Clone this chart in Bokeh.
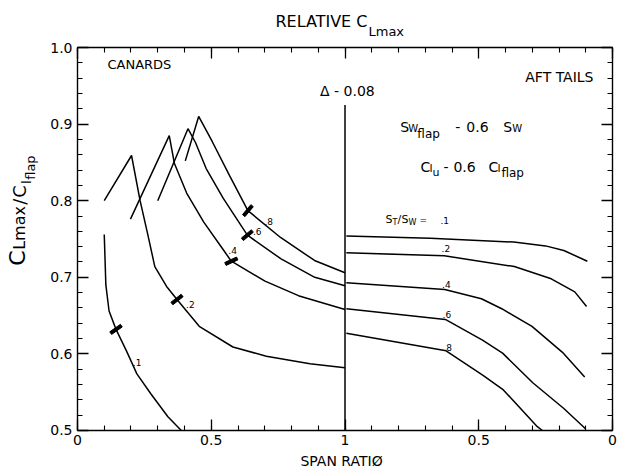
from bokeh.plotting import figure
from bokeh.models import (FixedTicker, LinearAxis, Label, ColumnDataSource,
                          CustomJSTickFormatter, Range1d)
from bokeh.core.properties import value
from bokeh.embed import file_html
from bokeh.resources import INLINE

FONT = "DejaVu Sans"

# ---------------- data ----------------
# Canards: left half, x = span ratio (0 -> 1)
canard_01_x = [0.100, 0.106, 0.118, 0.144, 0.183, 0.222, 0.274, 0.338, 0.388]
canard_01_y = [0.756, 0.690, 0.656, 0.632, 0.604, 0.574, 0.548, 0.518, 0.500]

canard_02_x = [0.100, 0.202, 0.234, 0.262, 0.289, 0.333, 0.372, 0.455, 0.581, 0.706, 0.869, 1.000]
canard_02_y = [0.800, 0.859, 0.800, 0.757, 0.714, 0.688, 0.671, 0.636, 0.609, 0.597, 0.587, 0.582]

canard_04_x = [0.198, 0.343, 0.362, 0.408, 0.472, 0.543, 0.575, 0.701, 0.826, 1.000]
canard_04_y = [0.776, 0.885, 0.849, 0.810, 0.772, 0.737, 0.721, 0.695, 0.676, 0.658]

canard_06_x = [0.300, 0.413, 0.441, 0.481, 0.545, 0.635, 0.761, 0.887, 1.000]
canard_06_y = [0.800, 0.894, 0.876, 0.842, 0.803, 0.755, 0.724, 0.700, 0.689]

canard_08_x = [0.403, 0.453, 0.504, 0.568, 0.637, 0.759, 0.886, 1.000]
canard_08_y = [0.852, 0.910, 0.877, 0.833, 0.787, 0.752, 0.722, 0.706]

# Aft tails: right half, x = span ratio (1 -> 0 going right)
aft_01_x = [0.995, 0.681, 0.369, 0.250, 0.182, 0.094]
aft_01_y = [0.754, 0.751, 0.746, 0.741, 0.735, 0.721]

aft_02_x = [0.995, 0.629, 0.367, 0.229, 0.141, 0.097]
aft_02_y = [0.732, 0.728, 0.714, 0.698, 0.681, 0.662]

aft_04_x = [0.995, 0.627, 0.490, 0.414, 0.301, 0.187, 0.104]
aft_04_y = [0.693, 0.684, 0.672, 0.659, 0.636, 0.602, 0.570]

aft_06_x = [0.995, 0.625, 0.486, 0.411, 0.297, 0.183, 0.100]
aft_06_y = [0.659, 0.645, 0.618, 0.601, 0.562, 0.529, 0.502]

aft_08_x = [0.995, 0.622, 0.484, 0.408, 0.281, 0.262]
aft_08_y = [0.627, 0.604, 0.572, 0.553, 0.505, 0.500]

# slash marks on the canard curves
slash_x = [0.144, 0.372, 0.575, 0.635, 0.637]
slash_y = [0.632, 0.671, 0.721, 0.755, 0.787]
slash_angle = [35, 38, 25, 40, 50]

# curve labels
canard_lbl_text = [".1", ".2", ".4", ".6", ".8"]
canard_lbl_x = [0.223, 0.422, 0.580, 0.672, 0.715]
canard_lbl_y = [0.589, 0.664, 0.735, 0.760, 0.773]

aft_lbl_text = [".2", ".4", ".6", ".8"]
aft_lbl_x = [0.623, 0.621, 0.619, 0.616]
aft_lbl_y = [0.738, 0.691, 0.651, 0.609]

# divider between canards and aft tails
divider_x = [1.0, 1.0]
divider_y = [0.5, 0.925]

# axis ticks and labels
x_major_ticks = [0.0, 0.5, 1.0, 1.5, 2.0]
x_tick_labels = ["0", "0.5", "1", "0.5", "0"]
x_minor_ticks = [i / 10 for i in range(21)]
y_major_ticks = [0.5, 0.6, 0.7, 0.8, 0.9, 1.0]
y_tick_labels = ["0.5", "0.6", "0.7", "0.8", "0.9", "1.0"]
y_minor_ticks = [0.5 + i * 0.02 for i in range(26)]

X_LO, X_HI = 0.0, 2.0
Y_LO, Y_HI = 0.5, 1.0


def to_plot_x(span_ratios):
    # aft-tail span ratio runs from 1 at the divider to 0 at the right edge
    return [2.0 - r for r in span_ratios]


# ---------------- figure ----------------
# The frame spans the whole canvas; the chart box [0,2]x[0.5,1] sits inside it,
# with the four axes pinned to the box edges (fixed_location), so that the
# titles drawn as labels outside the box are not clipped.
p = figure(width=617, height=468,
           x_range=Range1d(-0.28785, 2.01869), y_range=Range1d(0.45039, 1.06136),
           output_backend="svg", toolbar_location=None,
           min_border_left=0, min_border_right=0, min_border_top=0, min_border_bottom=0)
p.title.visible = False
p.grid.visible = False
p.outline_line_color = None
p.background_fill_color = "white"
p.border_fill_color = "white"

LOOKUP = ("let k = -1;"
          "for (let j = 0; j < tk.length; j++) { if (Math.abs(tk[j] - tick) < 1e-9) { k = j; } }"
          "return k >= 0 ? lb[k] : '';")
x_fmt = CustomJSTickFormatter(args=dict(tk=x_major_ticks, lb=x_tick_labels), code=LOOKUP)
y_fmt = CustomJSTickFormatter(args=dict(tk=y_major_ticks, lb=y_tick_labels), code=LOOKUP)

bottom_axis = p.xaxis[0]
left_axis = p.yaxis[0]
bottom_axis.ticker = FixedTicker(ticks=x_major_ticks, minor_ticks=x_minor_ticks)
bottom_axis.formatter = x_fmt
left_axis.ticker = FixedTicker(ticks=y_major_ticks, minor_ticks=y_minor_ticks)
left_axis.formatter = y_fmt

top_axis = LinearAxis(ticker=FixedTicker(ticks=x_major_ticks, minor_ticks=x_minor_ticks),
                      formatter=CustomJSTickFormatter(code="return '';"))
right_axis = LinearAxis(ticker=FixedTicker(ticks=y_major_ticks, minor_ticks=y_minor_ticks),
                        formatter=CustomJSTickFormatter(code="return '';"))
p.add_layout(top_axis, "above")
p.add_layout(right_axis, "right")

bottom_axis.fixed_location = Y_LO
top_axis.fixed_location = Y_HI
left_axis.fixed_location = X_LO
right_axis.fixed_location = X_HI
for ax in [bottom_axis, top_axis]:
    ax.bounds = (X_LO, X_HI)
for ax in [left_axis, right_axis]:
    ax.bounds = (Y_LO, Y_HI)

for ax in [bottom_axis, left_axis, top_axis, right_axis]:
    ax.major_tick_in = 11
    ax.major_tick_out = 0
    ax.minor_tick_in = 5
    ax.minor_tick_out = 0
    ax.axis_line_width = 1.4
    ax.axis_line_color = "black"
    ax.major_tick_line_color = "black"
    ax.minor_tick_line_color = "black"
    ax.major_tick_line_width = 1.3
    ax.minor_tick_line_width = 1.1
    ax.major_label_text_font = FONT
    ax.major_label_text_font_size = "14px"
    ax.major_label_text_color = "black"
    ax.major_label_standoff = 5

# ---------------- curves ----------------
canards = [(canard_01_x, canard_01_y), (canard_02_x, canard_02_y), (canard_04_x, canard_04_y),
           (canard_06_x, canard_06_y), (canard_08_x, canard_08_y)]
for xs, ys in canards:
    p.line(xs, ys, line_color="black", line_width=1.5)

afts = [(aft_01_x, aft_01_y), (aft_02_x, aft_02_y), (aft_04_x, aft_04_y),
        (aft_06_x, aft_06_y), (aft_08_x, aft_08_y)]
for xs, ys in afts:
    p.line(to_plot_x(xs), ys, line_color="black", line_width=1.5)

p.line(divider_x, divider_y, line_color="black", line_width=1.5)

p.rect(x=slash_x, y=slash_y, width=13, height=3.2, width_units="screen", height_units="screen",
       angle=slash_angle, angle_units="deg", fill_color="black", line_color="black")

src_c = ColumnDataSource(dict(x=canard_lbl_x, y=canard_lbl_y, t=canard_lbl_text))
p.text(x="x", y="y", text="t", source=src_c, text_font=value(FONT), text_font_size="9px",
       text_align="center", text_baseline="middle", text_color="black")
src_a = ColumnDataSource(dict(x=to_plot_x(aft_lbl_x), y=aft_lbl_y, t=aft_lbl_text))
p.text(x="x", y="y", text="t", source=src_a, text_font=value(FONT), text_font_size="9px",
       text_align="center", text_baseline="middle", text_color="black")


def lab(x, y, text, size, dx=0, dy=0, align="left", angle=0, on_baseline=True):
    # on_baseline: (x, y) + offsets give the text baseline; rendered with a
    # middle anchor shifted up by about half the cap height.
    if on_baseline:
        shift = 0.36 * size
        if angle == 90:
            dx -= shift
        else:
            dy += shift
    p.add_layout(Label(x=x, y=y, text=text, x_offset=dx, y_offset=dy, text_font=FONT,
                       text_font_size=f"{size}px", text_align=align, text_baseline="middle",
                       angle=angle, angle_units="deg", text_color="black"))


# title
lab(1.084, 1.026, "RELATIVE C", 16, align="right")
lab(1.084, 1.0144, "Lmax", 13, dx=1)

# y-axis label (rotated)
yl_x, yl_y = -0.194, 0.715
lab(yl_x, yl_y, "C", 22, angle=90)
lab(yl_x, yl_y, "Lmax", 16, dy=16, angle=90)
lab(yl_x, yl_y, "/", 18, dy=61, angle=90)
lab(yl_x, yl_y, "C", 18, dy=68, angle=90)
lab(yl_x, yl_y, "l", 12, dx=6, dy=82, angle=90)
lab(yl_x, yl_y, "flap", 13, dx=10, dy=86, angle=90)

# x-axis label
lab(0.987, 0.4608, "SPAN RATIØ", 14, align="center", on_baseline=False)

# panel texts
lab(0.112, 0.978, "CANARDS", 13, on_baseline=False)
lab(1.929, 0.962, "AFT TAILS", 14, align="right", on_baseline=False)
lab(1.009, 0.943, "Δ - 0.08", 14, align="center", on_baseline=False)

l1x, l1y = 1.207, 0.889
lab(l1x, l1y, "S", 14)
lab(l1x, l1y, "W", 10, dx=8)
lab(l1x, l1y, "flap", 12, dx=17, dy=-6)
lab(l1x, l1y, "-", 14, dx=55)
lab(l1x, l1y, "0.6", 14, dx=66)
lab(l1x, l1y, "S", 14, dx=103)
lab(l1x, l1y, "W", 10, dx=112)

l2x, l2y = 1.282, 0.837
lab(l2x, l2y, "C", 14)
lab(l2x, l2y, "l", 11, dx=9)
lab(l2x, l2y, "u", 11, dx=12, dy=-4)
lab(l2x, l2y, "-", 14, dx=23)
lab(l2x, l2y, "0.6", 14, dx=33)
lab(l2x, l2y, "C", 14, dx=68)
lab(l2x, l2y, "l", 11, dx=77)
lab(l2x, l2y, "flap", 12, dx=81, dy=-5)

l3x, l3y = 1.151, 0.770
lab(l3x, l3y, "S", 11)
lab(l3x, l3y, "T", 8, dx=7, dy=-2)
lab(l3x, l3y, "/", 11, dx=12)
lab(l3x, l3y, "S", 11, dx=16)
lab(l3x, l3y, "W", 8, dx=23, dy=-2)
lab(l3x, l3y, "=", 9, dx=34)
lab(l3x, l3y, ".1", 9, dx=55)

open("out.html", "w").write(file_html(p, INLINE))
